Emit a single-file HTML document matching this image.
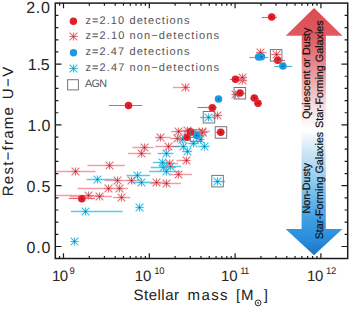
<!DOCTYPE html>
<html><head><meta charset="utf-8"><style>
html,body{margin:0;padding:0;background:#fff;}
body{width:350px;height:309px;overflow:hidden;}
svg{display:block;font-family:"Liberation Sans",sans-serif;text-rendering:geometricPrecision;}
</style></head><body>
<svg width="350" height="309" viewBox="0 0 350 309">
<rect width="350" height="309" fill="#fff"/>
<defs>
<linearGradient id="gr" x1="0" y1="0" x2="0" y2="1" gradientUnits="objectBoundingBox">
<stop offset="0" stop-color="#dc4a50"/><stop offset="0.23" stop-color="#e05a5f"/><stop offset="0.45" stop-color="#e8838a"/><stop offset="0.65" stop-color="#f2b3b6"/><stop offset="0.85" stop-color="#fae2e3"/><stop offset="1" stop-color="#ffffff"/>
</linearGradient>
<linearGradient id="gb" x1="0" y1="0" x2="0" y2="1" gradientUnits="objectBoundingBox">
<stop offset="0" stop-color="#f8fbfe"/><stop offset="0.12" stop-color="#d6eaf8"/><stop offset="0.4" stop-color="#90c9ef"/><stop offset="0.72" stop-color="#3c9de2"/><stop offset="0.87" stop-color="#2a8cda"/><stop offset="1" stop-color="#1874c8"/>
</linearGradient>
</defs>
<path d="M314.1 7.9 L342.5 35.8 L325.9 35.8 L325.9 128 L301.7 128 L301.7 35.8 L285.7 35.8 Z" fill="url(#gr)"/>
<path d="M301.6 133 L325.8 133 L325.8 229 L342.4 229 L314 255.3 L285.6 229 L301.6 229 Z" fill="url(#gb)"/>
<line x1="55.5" y1="171.5" x2="95.5" y2="171.5" stroke="#eea0a5" stroke-width="1.5"/>
<line x1="87.4" y1="165.5" x2="124.9" y2="165.5" stroke="#eea0a5" stroke-width="1.5"/>
<line x1="128.2" y1="153.5" x2="151.2" y2="153.5" stroke="#eea0a5" stroke-width="1.5"/>
<line x1="132.3" y1="147.5" x2="153.6" y2="147.5" stroke="#eea0a5" stroke-width="1.5"/>
<line x1="104.7" y1="180.5" x2="126.6" y2="180.5" stroke="#eea0a5" stroke-width="1.5"/>
<line x1="77.7" y1="188.5" x2="124.0" y2="188.5" stroke="#eea0a5" stroke-width="1.5"/>
<line x1="104" y1="188.5" x2="128" y2="188.5" stroke="#eea0a5" stroke-width="1.5"/>
<line x1="55.5" y1="195.5" x2="104" y2="195.5" stroke="#eea0a5" stroke-width="1.5"/>
<line x1="70" y1="196.5" x2="112" y2="196.5" stroke="#eea0a5" stroke-width="1.5"/>
<line x1="113" y1="197.5" x2="130.3" y2="197.5" stroke="#eea0a5" stroke-width="1.5"/>
<line x1="126" y1="180.5" x2="142" y2="180.5" stroke="#eea0a5" stroke-width="1.5"/>
<line x1="145" y1="182.5" x2="168" y2="182.5" stroke="#eea0a5" stroke-width="1.5"/>
<line x1="150" y1="183.5" x2="181.1" y2="183.5" stroke="#eea0a5" stroke-width="1.5"/>
<line x1="170" y1="174.5" x2="192" y2="174.5" stroke="#eea0a5" stroke-width="1.5"/>
<line x1="176.6" y1="160.5" x2="189.1" y2="160.5" stroke="#eea0a5" stroke-width="1.5"/>
<line x1="160" y1="163.5" x2="178" y2="163.5" stroke="#eea0a5" stroke-width="1.5"/>
<line x1="154.9" y1="137.5" x2="170.4" y2="137.5" stroke="#eea0a5" stroke-width="1.5"/>
<line x1="154.9" y1="146.5" x2="171" y2="146.5" stroke="#eea0a5" stroke-width="1.5"/>
<line x1="171" y1="131.5" x2="190" y2="131.5" stroke="#eea0a5" stroke-width="1.5"/>
<line x1="170" y1="138.5" x2="186" y2="138.5" stroke="#eea0a5" stroke-width="1.5"/>
<line x1="180" y1="130.5" x2="196" y2="130.5" stroke="#eea0a5" stroke-width="1.5"/>
<line x1="195" y1="131.5" x2="210" y2="131.5" stroke="#eea0a5" stroke-width="1.5"/>
<line x1="172.9" y1="87.5" x2="190" y2="87.5" stroke="#eea0a5" stroke-width="1.5"/>
<line x1="212" y1="115.5" x2="222" y2="115.5" stroke="#eea0a5" stroke-width="1.5"/>
<line x1="196" y1="132.5" x2="208" y2="132.5" stroke="#eea0a5" stroke-width="1.5"/>
<line x1="238" y1="80.5" x2="247" y2="80.5" stroke="#eea0a5" stroke-width="1.5"/>
<line x1="232" y1="94.5" x2="240" y2="94.5" stroke="#eea0a5" stroke-width="1.5"/>
<line x1="256" y1="52.5" x2="266.6" y2="52.5" stroke="#eea0a5" stroke-width="1.5"/>
<line x1="271" y1="54.5" x2="281" y2="54.5" stroke="#eea0a5" stroke-width="1.5"/>
<line x1="238" y1="77.5" x2="247" y2="77.5" stroke="#eea0a5" stroke-width="1.5"/>
<line x1="86.6" y1="179.5" x2="117.7" y2="179.5" stroke="#5ccbea" stroke-width="1.5"/>
<line x1="70.9" y1="211.5" x2="122.6" y2="211.5" stroke="#5ccbea" stroke-width="1.5"/>
<line x1="126.6" y1="175.5" x2="150" y2="175.5" stroke="#5ccbea" stroke-width="1.5"/>
<line x1="131" y1="182.5" x2="152" y2="182.5" stroke="#5ccbea" stroke-width="1.5"/>
<line x1="157.5" y1="153.5" x2="173.5" y2="153.5" stroke="#5ccbea" stroke-width="1.5"/>
<line x1="152.9" y1="162.5" x2="172" y2="162.5" stroke="#5ccbea" stroke-width="1.5"/>
<line x1="150.7" y1="167.5" x2="176" y2="167.5" stroke="#5ccbea" stroke-width="1.5"/>
<line x1="149" y1="171.5" x2="180" y2="171.5" stroke="#5ccbea" stroke-width="1.5"/>
<line x1="160" y1="166.5" x2="181" y2="166.5" stroke="#5ccbea" stroke-width="1.5"/>
<line x1="176" y1="139.5" x2="187" y2="139.5" stroke="#5ccbea" stroke-width="1.5"/>
<line x1="182" y1="151.5" x2="192" y2="151.5" stroke="#5ccbea" stroke-width="1.5"/>
<line x1="188" y1="143.5" x2="199" y2="143.5" stroke="#5ccbea" stroke-width="1.5"/>
<line x1="198.3" y1="146.5" x2="209.7" y2="146.5" stroke="#5ccbea" stroke-width="1.5"/>
<line x1="200" y1="117.5" x2="216" y2="117.5" stroke="#5ccbea" stroke-width="1.5"/>
<line x1="213" y1="181.5" x2="225" y2="181.5" stroke="#5ccbea" stroke-width="1.5"/>
<line x1="170.5" y1="146.5" x2="186.5" y2="146.5" stroke="#6d86ad" stroke-width="1.4"/>
<line x1="261.6" y1="17.5" x2="277.1" y2="17.5" stroke="#e6606a" stroke-width="1.1"/>
<line x1="273.4" y1="60.5" x2="285" y2="60.5" stroke="#e6606a" stroke-width="1.1"/>
<line x1="229.9" y1="79.5" x2="240" y2="79.5" stroke="#e6606a" stroke-width="1.1"/>
<line x1="235" y1="93.5" x2="245" y2="93.5" stroke="#e6606a" stroke-width="1.1"/>
<line x1="250" y1="98.5" x2="259" y2="98.5" stroke="#e6606a" stroke-width="1.1"/>
<line x1="254" y1="103.5" x2="262" y2="103.5" stroke="#e6606a" stroke-width="1.1"/>
<line x1="197.4" y1="107.5" x2="217" y2="107.5" stroke="#e6606a" stroke-width="1.1"/>
<line x1="108.9" y1="105.5" x2="142.5" y2="105.5" stroke="#e6606a" stroke-width="1.1"/>
<line x1="216" y1="132.5" x2="225" y2="132.5" stroke="#e6606a" stroke-width="1.1"/>
<line x1="184" y1="131.5" x2="197" y2="131.5" stroke="#e6606a" stroke-width="1.1"/>
<line x1="181" y1="137.5" x2="193" y2="137.5" stroke="#e6606a" stroke-width="1.1"/>
<line x1="68.9" y1="198.5" x2="95" y2="198.5" stroke="#e6606a" stroke-width="1.1"/>
<line x1="249.4" y1="57.5" x2="268.3" y2="57.5" stroke="#45b8e6" stroke-width="1.2"/>
<line x1="274.3" y1="66.5" x2="292.3" y2="66.5" stroke="#45b8e6" stroke-width="1.2"/>
<line x1="189" y1="135.5" x2="204" y2="135.5" stroke="#45b8e6" stroke-width="1.2"/>
<path d="M93.4 179.5h8.2M97.5 175.4v8.2M93.6 175.6l7.8 7.8M93.6 183.4l7.8 -7.8" stroke="#3cbfe4" stroke-width="1.15" fill="none"/>
<circle cx="97.5" cy="179.5" r="0.8" fill="#0a5f86"/>
<path d="M81.4 211.5h8.2M85.5 207.4v8.2M81.6 207.6l7.8 7.8M81.6 215.4l7.8 -7.8" stroke="#3cbfe4" stroke-width="1.15" fill="none"/>
<circle cx="85.5" cy="211.5" r="0.8" fill="#0a5f86"/>
<path d="M70.4 241.5h8.2M74.5 237.4v8.2M70.6 237.6l7.8 7.8M70.6 245.4l7.8 -7.8" stroke="#3cbfe4" stroke-width="1.15" fill="none"/>
<circle cx="74.5" cy="241.5" r="0.8" fill="#0a5f86"/>
<path d="M135.4 207.5h8.2M139.5 203.4v8.2M135.6 203.6l7.8 7.8M135.6 211.4l7.8 -7.8" stroke="#3cbfe4" stroke-width="1.15" fill="none"/>
<circle cx="139.5" cy="207.5" r="0.8" fill="#0a5f86"/>
<path d="M133.4 175.5h8.2M137.5 171.4v8.2M133.6 171.6l7.8 7.8M133.6 179.4l7.8 -7.8" stroke="#3cbfe4" stroke-width="1.15" fill="none"/>
<circle cx="137.5" cy="175.5" r="0.8" fill="#0a5f86"/>
<path d="M137.4 182.5h8.2M141.5 178.4v8.2M137.6 178.6l7.8 7.8M137.6 186.4l7.8 -7.8" stroke="#3cbfe4" stroke-width="1.15" fill="none"/>
<circle cx="141.5" cy="182.5" r="0.8" fill="#0a5f86"/>
<path d="M162.4 153.5h8.2M166.5 149.4v8.2M162.6 149.6l7.8 7.8M162.6 157.4l7.8 -7.8" stroke="#3cbfe4" stroke-width="1.15" fill="none"/>
<circle cx="166.5" cy="153.5" r="0.8" fill="#0a5f86"/>
<path d="M158.4 162.5h8.2M162.5 158.4v8.2M158.6 158.6l7.8 7.8M158.6 166.4l7.8 -7.8" stroke="#3cbfe4" stroke-width="1.15" fill="none"/>
<circle cx="162.5" cy="162.5" r="0.8" fill="#0a5f86"/>
<path d="M159.4 167.5h8.2M163.5 163.4v8.2M159.6 163.6l7.8 7.8M159.6 171.4l7.8 -7.8" stroke="#3cbfe4" stroke-width="1.15" fill="none"/>
<circle cx="163.5" cy="167.5" r="0.8" fill="#0a5f86"/>
<path d="M162.4 171.5h8.2M166.5 167.4v8.2M162.6 167.6l7.8 7.8M162.6 175.4l7.8 -7.8" stroke="#3cbfe4" stroke-width="1.15" fill="none"/>
<circle cx="166.5" cy="171.5" r="0.8" fill="#0a5f86"/>
<path d="M166.4 166.5h8.2M170.5 162.4v8.2M166.6 162.6l7.8 7.8M166.6 170.4l7.8 -7.8" stroke="#3cbfe4" stroke-width="1.15" fill="none"/>
<circle cx="170.5" cy="166.5" r="0.8" fill="#0a5f86"/>
<path d="M178.4 139.5h8.2M182.5 135.4v8.2M178.6 135.6l7.8 7.8M178.6 143.4l7.8 -7.8" stroke="#3cbfe4" stroke-width="1.15" fill="none"/>
<circle cx="182.5" cy="139.5" r="0.8" fill="#0a5f86"/>
<path d="M179.4 146.5h8.2M183.5 142.4v8.2M179.6 142.6l7.8 7.8M179.6 150.4l7.8 -7.8" stroke="#3cbfe4" stroke-width="1.15" fill="none"/>
<circle cx="183.5" cy="146.5" r="0.8" fill="#0a5f86"/>
<path d="M183.4 151.5h8.2M187.5 147.4v8.2M183.6 147.6l7.8 7.8M183.6 155.4l7.8 -7.8" stroke="#3cbfe4" stroke-width="1.15" fill="none"/>
<circle cx="187.5" cy="151.5" r="0.8" fill="#0a5f86"/>
<path d="M189.4 143.5h8.2M193.5 139.4v8.2M189.6 139.6l7.8 7.8M189.6 147.4l7.8 -7.8" stroke="#3cbfe4" stroke-width="1.15" fill="none"/>
<circle cx="193.5" cy="143.5" r="0.8" fill="#0a5f86"/>
<path d="M196.4 139.5h8.2M200.5 135.4v8.2M196.6 135.6l7.8 7.8M196.6 143.4l7.8 -7.8" stroke="#3cbfe4" stroke-width="1.15" fill="none"/>
<circle cx="200.5" cy="139.5" r="0.8" fill="#0a5f86"/>
<path d="M200.4 146.5h8.2M204.5 142.4v8.2M200.6 142.6l7.8 7.8M200.6 150.4l7.8 -7.8" stroke="#3cbfe4" stroke-width="1.15" fill="none"/>
<circle cx="204.5" cy="146.5" r="0.8" fill="#0a5f86"/>
<path d="M204.4 117.5h8.2M208.5 113.4v8.2M204.6 113.6l7.8 7.8M204.6 121.4l7.8 -7.8" stroke="#3cbfe4" stroke-width="1.15" fill="none"/>
<circle cx="208.5" cy="117.5" r="0.8" fill="#0a5f86"/>
<path d="M213.4 181.5h8.2M217.5 177.4v8.2M213.6 177.6l7.8 7.8M213.6 185.4l7.8 -7.8" stroke="#3cbfe4" stroke-width="1.15" fill="none"/>
<circle cx="217.5" cy="181.5" r="0.8" fill="#0a5f86"/>
<path d="M71.4 171.5h8.2M75.5 167.4v8.2M71.6 167.6l7.8 7.8M71.6 175.4l7.8 -7.8" stroke="#e36f78" stroke-width="1.15" fill="none"/>
<circle cx="75.5" cy="171.5" r="0.8" fill="#9a1020"/>
<path d="M105.4 165.5h8.2M109.5 161.4v8.2M105.6 161.6l7.8 7.8M105.6 169.4l7.8 -7.8" stroke="#e36f78" stroke-width="1.15" fill="none"/>
<circle cx="109.5" cy="165.5" r="0.8" fill="#9a1020"/>
<path d="M137.4 153.5h8.2M141.5 149.4v8.2M137.6 149.6l7.8 7.8M137.6 157.4l7.8 -7.8" stroke="#e36f78" stroke-width="1.15" fill="none"/>
<circle cx="141.5" cy="153.5" r="0.8" fill="#9a1020"/>
<path d="M140.4 147.5h8.2M144.5 143.4v8.2M140.6 143.6l7.8 7.8M140.6 151.4l7.8 -7.8" stroke="#e36f78" stroke-width="1.15" fill="none"/>
<circle cx="144.5" cy="147.5" r="0.8" fill="#9a1020"/>
<path d="M113.4 180.5h8.2M117.5 176.4v8.2M113.6 176.6l7.8 7.8M113.6 184.4l7.8 -7.8" stroke="#e36f78" stroke-width="1.15" fill="none"/>
<circle cx="117.5" cy="180.5" r="0.8" fill="#9a1020"/>
<path d="M104.4 188.5h8.2M108.5 184.4v8.2M104.6 184.6l7.8 7.8M104.6 192.4l7.8 -7.8" stroke="#e36f78" stroke-width="1.15" fill="none"/>
<circle cx="108.5" cy="188.5" r="0.8" fill="#9a1020"/>
<path d="M115.4 188.5h8.2M119.5 184.4v8.2M115.6 184.6l7.8 7.8M115.6 192.4l7.8 -7.8" stroke="#e36f78" stroke-width="1.15" fill="none"/>
<circle cx="119.5" cy="188.5" r="0.8" fill="#9a1020"/>
<path d="M84.4 195.5h8.2M88.5 191.4v8.2M84.6 191.6l7.8 7.8M84.6 199.4l7.8 -7.8" stroke="#e36f78" stroke-width="1.15" fill="none"/>
<circle cx="88.5" cy="195.5" r="0.8" fill="#9a1020"/>
<path d="M95.4 196.5h8.2M99.5 192.4v8.2M95.6 192.6l7.8 7.8M95.6 200.4l7.8 -7.8" stroke="#e36f78" stroke-width="1.15" fill="none"/>
<circle cx="99.5" cy="196.5" r="0.8" fill="#9a1020"/>
<path d="M117.4 197.5h8.2M121.5 193.4v8.2M117.6 193.6l7.8 7.8M117.6 201.4l7.8 -7.8" stroke="#e36f78" stroke-width="1.15" fill="none"/>
<circle cx="121.5" cy="197.5" r="0.8" fill="#9a1020"/>
<path d="M127.4 180.5h8.2M131.5 176.4v8.2M127.6 176.6l7.8 7.8M127.6 184.4l7.8 -7.8" stroke="#e36f78" stroke-width="1.15" fill="none"/>
<circle cx="131.5" cy="180.5" r="0.8" fill="#9a1020"/>
<path d="M152.4 182.5h8.2M156.5 178.4v8.2M152.6 178.6l7.8 7.8M152.6 186.4l7.8 -7.8" stroke="#e36f78" stroke-width="1.15" fill="none"/>
<circle cx="156.5" cy="182.5" r="0.8" fill="#9a1020"/>
<path d="M162.4 183.5h8.2M166.5 179.4v8.2M162.6 179.6l7.8 7.8M162.6 187.4l7.8 -7.8" stroke="#e36f78" stroke-width="1.15" fill="none"/>
<circle cx="166.5" cy="183.5" r="0.8" fill="#9a1020"/>
<path d="M174.4 174.5h8.2M178.5 170.4v8.2M174.6 170.6l7.8 7.8M174.6 178.4l7.8 -7.8" stroke="#e36f78" stroke-width="1.15" fill="none"/>
<circle cx="178.5" cy="174.5" r="0.8" fill="#9a1020"/>
<path d="M182.4 160.5h8.2M186.5 156.4v8.2M182.6 156.6l7.8 7.8M182.6 164.4l7.8 -7.8" stroke="#e36f78" stroke-width="1.15" fill="none"/>
<circle cx="186.5" cy="160.5" r="0.8" fill="#9a1020"/>
<path d="M165.4 163.5h8.2M169.5 159.4v8.2M165.6 159.6l7.8 7.8M165.6 167.4l7.8 -7.8" stroke="#e36f78" stroke-width="1.15" fill="none"/>
<circle cx="169.5" cy="163.5" r="0.8" fill="#9a1020"/>
<path d="M156.4 137.5h8.2M160.5 133.4v8.2M156.6 133.6l7.8 7.8M156.6 141.4l7.8 -7.8" stroke="#e36f78" stroke-width="1.15" fill="none"/>
<circle cx="160.5" cy="137.5" r="0.8" fill="#9a1020"/>
<path d="M164.4 146.5h8.2M168.5 142.4v8.2M164.6 142.6l7.8 7.8M164.6 150.4l7.8 -7.8" stroke="#e36f78" stroke-width="1.15" fill="none"/>
<circle cx="168.5" cy="146.5" r="0.8" fill="#9a1020"/>
<path d="M174.4 131.5h8.2M178.5 127.4v8.2M174.6 127.6l7.8 7.8M174.6 135.4l7.8 -7.8" stroke="#e36f78" stroke-width="1.15" fill="none"/>
<circle cx="178.5" cy="131.5" r="0.8" fill="#9a1020"/>
<path d="M173.4 138.5h8.2M177.5 134.4v8.2M173.6 134.6l7.8 7.8M173.6 142.4l7.8 -7.8" stroke="#e36f78" stroke-width="1.15" fill="none"/>
<circle cx="177.5" cy="138.5" r="0.8" fill="#9a1020"/>
<path d="M183.4 130.5h8.2M187.5 126.4v8.2M183.6 126.6l7.8 7.8M183.6 134.4l7.8 -7.8" stroke="#e36f78" stroke-width="1.15" fill="none"/>
<circle cx="187.5" cy="130.5" r="0.8" fill="#9a1020"/>
<path d="M198.4 131.5h8.2M202.5 127.4v8.2M198.6 127.6l7.8 7.8M198.6 135.4l7.8 -7.8" stroke="#e36f78" stroke-width="1.15" fill="none"/>
<circle cx="202.5" cy="131.5" r="0.8" fill="#9a1020"/>
<path d="M181.4 87.5h8.2M185.5 83.4v8.2M181.6 83.6l7.8 7.8M181.6 91.4l7.8 -7.8" stroke="#e36f78" stroke-width="1.15" fill="none"/>
<circle cx="185.5" cy="87.5" r="0.8" fill="#9a1020"/>
<path d="M213.4 115.5h8.2M217.5 111.4v8.2M213.6 111.6l7.8 7.8M213.6 119.4l7.8 -7.8" stroke="#e36f78" stroke-width="1.15" fill="none"/>
<circle cx="217.5" cy="115.5" r="0.8" fill="#9a1020"/>
<path d="M198.4 132.5h8.2M202.5 128.4v8.2M198.6 128.6l7.8 7.8M198.6 136.4l7.8 -7.8" stroke="#e36f78" stroke-width="1.15" fill="none"/>
<circle cx="202.5" cy="132.5" r="0.8" fill="#9a1020"/>
<path d="M238.4 80.5h8.2M242.5 76.4v8.2M238.6 76.6l7.8 7.8M238.6 84.4l7.8 -7.8" stroke="#e36f78" stroke-width="1.15" fill="none"/>
<circle cx="242.5" cy="80.5" r="0.8" fill="#9a1020"/>
<path d="M231.4 94.5h8.2M235.5 90.4v8.2M231.6 90.6l7.8 7.8M231.6 98.4l7.8 -7.8" stroke="#e36f78" stroke-width="1.15" fill="none"/>
<circle cx="235.5" cy="94.5" r="0.8" fill="#9a1020"/>
<path d="M256.4 52.5h8.2M260.5 48.4v8.2M256.6 48.6l7.8 7.8M256.6 56.4l7.8 -7.8" stroke="#e36f78" stroke-width="1.15" fill="none"/>
<circle cx="260.5" cy="52.5" r="0.8" fill="#9a1020"/>
<path d="M272.4 54.5h8.2M276.5 50.4v8.2M272.6 50.6l7.8 7.8M272.6 58.4l7.8 -7.8" stroke="#e36f78" stroke-width="1.15" fill="none"/>
<circle cx="276.5" cy="54.5" r="0.8" fill="#9a1020"/>
<path d="M238.4 77.5h8.2M242.5 73.4v8.2M238.6 73.6l7.8 7.8M238.6 81.4l7.8 -7.8" stroke="#e36f78" stroke-width="1.15" fill="none"/>
<circle cx="242.5" cy="77.5" r="0.8" fill="#9a1020"/>
<circle cx="258.6" cy="57.1" r="3.75" fill="#1a9be0"/>
<circle cx="258.6" cy="57.1" r="0.75" fill="#0a4a78"/>
<circle cx="261.4" cy="56.8" r="3.75" fill="#1a9be0"/>
<circle cx="261.4" cy="56.8" r="0.75" fill="#0a4a78"/>
<circle cx="282.9" cy="66.0" r="3.75" fill="#1a9be0"/>
<circle cx="282.9" cy="66.0" r="0.75" fill="#0a4a78"/>
<circle cx="218.5" cy="99.1" r="3.75" fill="#1a9be0"/>
<circle cx="218.5" cy="99.1" r="0.75" fill="#0a4a78"/>
<circle cx="196.5" cy="135.5" r="3.75" fill="#1a9be0"/>
<circle cx="196.5" cy="135.5" r="0.75" fill="#0a4a78"/>
<circle cx="271.7" cy="17.1" r="3.75" fill="#e11f2a"/>
<circle cx="271.7" cy="17.1" r="0.75" fill="#7a0810"/>
<circle cx="277.7" cy="60.2" r="3.75" fill="#e11f2a"/>
<circle cx="277.7" cy="60.2" r="0.75" fill="#7a0810"/>
<circle cx="235.5" cy="79.3" r="3.75" fill="#e11f2a"/>
<circle cx="235.5" cy="79.3" r="0.75" fill="#7a0810"/>
<circle cx="240.0" cy="93.0" r="3.75" fill="#e11f2a"/>
<circle cx="240.0" cy="93.0" r="0.75" fill="#7a0810"/>
<circle cx="254.3" cy="98.0" r="3.75" fill="#e11f2a"/>
<circle cx="254.3" cy="98.0" r="0.75" fill="#7a0810"/>
<circle cx="258.0" cy="103.3" r="3.75" fill="#e11f2a"/>
<circle cx="258.0" cy="103.3" r="0.75" fill="#7a0810"/>
<circle cx="212.3" cy="107.8" r="3.75" fill="#e11f2a"/>
<circle cx="212.3" cy="107.8" r="0.75" fill="#7a0810"/>
<circle cx="128.5" cy="105.4" r="3.75" fill="#e11f2a"/>
<circle cx="128.5" cy="105.4" r="0.75" fill="#7a0810"/>
<circle cx="220.7" cy="132.3" r="3.75" fill="#e11f2a"/>
<circle cx="220.7" cy="132.3" r="0.75" fill="#7a0810"/>
<circle cx="190.5" cy="131.7" r="3.75" fill="#e11f2a"/>
<circle cx="190.5" cy="131.7" r="0.75" fill="#7a0810"/>
<circle cx="187.0" cy="137.3" r="3.75" fill="#e11f2a"/>
<circle cx="187.0" cy="137.3" r="0.75" fill="#7a0810"/>
<circle cx="81.8" cy="198.8" r="3.75" fill="#e11f2a"/>
<circle cx="81.8" cy="198.8" r="0.75" fill="#7a0810"/>
<rect x="270.4" y="49.6" width="11.5" height="11.5" fill="none" stroke="#777777" stroke-width="1"/>
<rect x="234.1" y="87.5" width="11.5" height="11.5" fill="none" stroke="#777777" stroke-width="1"/>
<rect x="203.2" y="111.5" width="11.5" height="11.5" fill="none" stroke="#777777" stroke-width="1"/>
<rect x="215.2" y="126.7" width="11.5" height="11.5" fill="none" stroke="#777777" stroke-width="1"/>
<rect x="190.2" y="129.8" width="11.5" height="11.5" fill="none" stroke="#777777" stroke-width="1"/>
<rect x="211.8" y="175.4" width="11.5" height="11.5" fill="none" stroke="#777777" stroke-width="1"/>
<path d="M59.57 258.50L59.57 255.90M59.57 3.10L59.57 5.70M63.50 258.50L63.50 253.30M63.50 3.10L63.50 8.30M89.33 258.50L89.33 255.90M89.33 3.10L89.33 5.70M104.44 258.50L104.44 255.90M104.44 3.10L104.44 5.70M115.16 258.50L115.16 255.90M115.16 3.10L115.16 5.70M123.47 258.50L123.47 255.90M123.47 3.10L123.47 5.70M130.27 258.50L130.27 255.90M130.27 3.10L130.27 5.70M136.01 258.50L136.01 255.90M136.01 3.10L136.01 5.70M140.99 258.50L140.99 255.90M140.99 3.10L140.99 5.70M145.37 258.50L145.37 255.90M145.37 3.10L145.37 5.70M149.30 258.50L149.30 253.30M149.30 3.10L149.30 8.30M175.13 258.50L175.13 255.90M175.13 3.10L175.13 5.70M190.24 258.50L190.24 255.90M190.24 3.10L190.24 5.70M200.96 258.50L200.96 255.90M200.96 3.10L200.96 5.70M209.27 258.50L209.27 255.90M209.27 3.10L209.27 5.70M216.07 258.50L216.07 255.90M216.07 3.10L216.07 5.70M221.81 258.50L221.81 255.90M221.81 3.10L221.81 5.70M226.79 258.50L226.79 255.90M226.79 3.10L226.79 5.70M231.17 258.50L231.17 255.90M231.17 3.10L231.17 5.70M235.10 258.50L235.10 253.30M235.10 3.10L235.10 8.30M260.93 258.50L260.93 255.90M260.93 3.10L260.93 5.70M276.04 258.50L276.04 255.90M276.04 3.10L276.04 5.70M286.76 258.50L286.76 255.90M286.76 3.10L286.76 5.70M295.07 258.50L295.07 255.90M295.07 3.10L295.07 5.70M301.87 258.50L301.87 255.90M301.87 3.10L301.87 5.70M307.61 258.50L307.61 255.90M307.61 3.10L307.61 5.70M312.59 258.50L312.59 255.90M312.59 3.10L312.59 5.70M316.97 258.50L316.97 255.90M316.97 3.10L316.97 5.70M320.90 258.50L320.90 253.30M320.90 3.10L320.90 8.30M55.30 246.50L61.50 246.50M347.70 246.50L341.50 246.50M55.30 234.34L58.40 234.34M347.70 234.34L344.60 234.34M55.30 222.18L58.40 222.18M347.70 222.18L344.60 222.18M55.30 210.02L58.40 210.02M347.70 210.02L344.60 210.02M55.30 197.86L58.40 197.86M347.70 197.86L344.60 197.86M55.30 185.70L61.50 185.70M347.70 185.70L341.50 185.70M55.30 173.54L58.40 173.54M347.70 173.54L344.60 173.54M55.30 161.38L58.40 161.38M347.70 161.38L344.60 161.38M55.30 149.22L58.40 149.22M347.70 149.22L344.60 149.22M55.30 137.06L58.40 137.06M347.70 137.06L344.60 137.06M55.30 124.90L61.50 124.90M347.70 124.90L341.50 124.90M55.30 112.74L58.40 112.74M347.70 112.74L344.60 112.74M55.30 100.58L58.40 100.58M347.70 100.58L344.60 100.58M55.30 88.42L58.40 88.42M347.70 88.42L344.60 88.42M55.30 76.26L58.40 76.26M347.70 76.26L344.60 76.26M55.30 64.10L61.50 64.10M347.70 64.10L341.50 64.10M55.30 51.94L58.40 51.94M347.70 51.94L344.60 51.94M55.30 39.78L58.40 39.78M347.70 39.78L344.60 39.78M55.30 27.62L58.40 27.62M347.70 27.62L344.60 27.62M55.30 15.46L58.40 15.46M347.70 15.46L344.60 15.46" stroke="#1c1c1c" stroke-width="1.2" fill="none"/>
<rect x="55.3" y="3.1" width="292.4" height="255.4" fill="none" stroke="#1c1c1c" stroke-width="1.5"/>
<circle cx="73.4" cy="21.3" r="3.7" fill="#e11f2a"/>
<path d="M69.4 36.5h8.2M73.5 32.4v8.2M69.6 32.6l7.8 7.8M69.6 40.4l7.8 -7.8" stroke="#e36f78" stroke-width="1.15" fill="none"/>
<circle cx="73.5" cy="36.5" r="0.8" fill="#d01828"/>
<circle cx="73.5" cy="52.8" r="3.7" fill="#1a9be0"/>
<path d="M69.4 68.5h8.2M73.5 64.4v8.2M69.6 64.6l7.8 7.8M69.6 72.4l7.8 -7.8" stroke="#3cbfe4" stroke-width="1.15" fill="none"/>
<circle cx="73.5" cy="68.5" r="0.8" fill="#1090c0"/>
<rect x="67.6" y="79.7" width="10.8" height="10.2" fill="none" stroke="#777777" stroke-width="1"/>
<text x="85.4" y="24.1" font-size="11" fill="#555" text-anchor="start" textLength="104" lengthAdjust="spacing">z=2.10 detections</text>
<text x="85.4" y="39.4" font-size="11" fill="#555" text-anchor="start" textLength="133.5" lengthAdjust="spacing">z=2.10 non&#8722;detections</text>
<text x="85.4" y="55.3" font-size="11" fill="#555" text-anchor="start" textLength="104" lengthAdjust="spacing">z=2.47 detections</text>
<text x="85.4" y="71.2" font-size="11" fill="#555" text-anchor="start" textLength="133.5" lengthAdjust="spacing">z=2.47 non&#8722;detections</text>
<text x="85.0" y="87.0" font-size="10.8" fill="#555" text-anchor="start" textLength="22" lengthAdjust="spacing">AGN</text>
<text x="26.2" y="13.2" font-size="16" fill="#262626" text-anchor="start" textLength="23.7" lengthAdjust="spacing">2.0</text>
<text x="27.7" y="69.9" font-size="16" fill="#262626" text-anchor="start" textLength="21.9" lengthAdjust="spacing">1.5</text>
<text x="27.5" y="131.1" font-size="16" fill="#262626" text-anchor="start" textLength="22.8" lengthAdjust="spacing">1.0</text>
<text x="26.5" y="191.7" font-size="16" fill="#262626" text-anchor="start" textLength="23.9" lengthAdjust="spacing">0.5</text>
<text x="26.5" y="253.1" font-size="16" fill="#262626" text-anchor="start" textLength="23.8" lengthAdjust="spacing">0.0</text>
<text x="52.0" y="280.7" font-size="15.0" fill="#262626" text-anchor="start" textLength="16.2" lengthAdjust="spacing">10</text>
<text x="69.6" y="273.7" font-size="9.5" fill="#262626" text-anchor="start" textLength="5.6" lengthAdjust="spacing">9</text>
<text x="134.8" y="280.7" font-size="15.0" fill="#262626" text-anchor="start" textLength="16.6" lengthAdjust="spacing">10</text>
<text x="154.2" y="273.7" font-size="9.5" fill="#262626" text-anchor="start" textLength="10.3" lengthAdjust="spacing">10</text>
<text x="221.1" y="280.7" font-size="15.0" fill="#262626" text-anchor="start" textLength="16.4" lengthAdjust="spacing">10</text>
<text x="240.3" y="273.7" font-size="9.5" fill="#262626" text-anchor="start" textLength="8.9" lengthAdjust="spacing">11</text>
<text x="306.9" y="280.7" font-size="15.0" fill="#262626" text-anchor="start" textLength="16.4" lengthAdjust="spacing">10</text>
<text x="326.1" y="273.7" font-size="9.5" fill="#262626" text-anchor="start" textLength="10.3" lengthAdjust="spacing">12</text>
<text x="133.5" y="300" font-size="15" fill="#222" text-anchor="start" textLength="45.5" lengthAdjust="spacing">Stellar</text>
<text x="187.6" y="300" font-size="15" fill="#222" text-anchor="start" textLength="40" lengthAdjust="spacing">mass</text>
<text x="236.0" y="300" font-size="15" fill="#222" text-anchor="start" textLength="17.6" lengthAdjust="spacing">[M</text>
<text x="267.9" y="300" font-size="15" fill="#1a1a1a" text-anchor="end">]</text>
<circle cx="258.1" cy="302.9" r="2.9" fill="none" stroke="#1a1a1a" stroke-width="0.9"/><circle cx="258.1" cy="302.9" r="0.8" fill="#1a1a1a"/>
<g transform="translate(12.5,196.2) rotate(-90)">
<text x="0" y="0" font-size="15" fill="#222" text-anchor="start" textLength="89" lengthAdjust="spacing">Rest&#8722;frame</text>
<text x="96.9" y="0" font-size="15" fill="#222" text-anchor="start" textLength="32.5" lengthAdjust="spacing">U&#8722;V</text>
</g>
<text transform="translate(310.0,119.0) rotate(-90)" font-size="10.75" fill="#111" stroke="#111" stroke-width="0.2">Quiescent or Dusty</text>
<text transform="translate(322.9,127.9) rotate(-90)" font-size="10.75" fill="#111" stroke="#111" stroke-width="0.2">Star-Forming Galaxies</text>
<text transform="translate(310.4,213.6) rotate(-90)" font-size="10.75" fill="#111" stroke="#111" stroke-width="0.2">Non-Dusty</text>
<text transform="translate(323.3,239.3) rotate(-90)" font-size="10.75" fill="#111" stroke="#111" stroke-width="0.2">Star-Forming Galaxies</text>
</svg>
</body></html>
